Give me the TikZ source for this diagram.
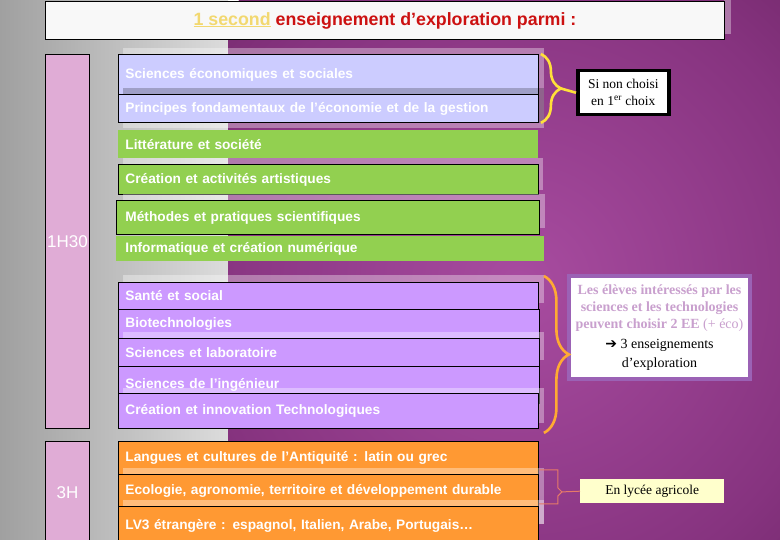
\documentclass[tikz,border=0pt]{standalone}
\usepackage{fontspec}
\setmainfont{Liberation Serif}
\newfontfamily\arialfont{Liberation Sans}
\newfontfamily\flechefont{DejaVu Sans}
\usetikzlibrary{calc,decorations.pathreplacing}

\definecolor{lavande}{HTML}{CCCCFF}
\definecolor{vertee}{HTML}{92D050}
\definecolor{mauve}{HTML}{CC99FF}
\definecolor{orangee}{HTML}{FF9933}
\definecolor{rosebarre}{HTML}{E0ACD6}
\definecolor{rougetitre}{HTML}{CC1111}
\definecolor{jaunetitre}{HTML}{F2D870}
\definecolor{blanccasse}{HTML}{F8F8F8}
\definecolor{lilas}{HTML}{C9A0CE}
\definecolor{cadreviolet}{HTML}{9B62B5}
\definecolor{accoladejaune}{HTML}{FFE03A}
\definecolor{accoladeorange}{HTML}{FFAA33}
\definecolor{accoladesaumon}{HTML}{E77A68}
\definecolor{jaunepale}{HTML}{FFFFCC}
\definecolor{grisfonce}{HTML}{A0A0A0}
\definecolor{grisclair}{HTML}{DCDCDC}
\definecolor{violetclair}{HTML}{A84CA0}
\definecolor{violetmoyen}{HTML}{86337F}
\definecolor{violetsombre}{HTML}{3A0A32}

\pgfdeclareradialshading{fondviolet}{\pgfpoint{0bp}{0bp}}{color(0bp)=(violetclair); color(20bp)=(violetmoyen); color(50bp)=(violetsombre)}

\newcommand{\lilas}[1]{\textcolor{lilas}{\textbf{#1}}}

\tikzset{
  titre/.style={anchor=north west, draw=black, line width=.9pt, fill=blanccasse, minimum width=679pt, minimum height=38pt, inner sep=0pt, text=rougetitre, font=\arialfont\bfseries\fontsize{17.8}{20}\selectfont},
  boite/.style={anchor=north west, draw=black, line width=.9pt, inner xsep=7pt, inner ysep=0pt, text width=406pt, align=left, text=white, font=\arialfont\bfseries\fontsize{13.7}{15}\selectfont},
  sansbord/.style={draw=none},
  barre/.style={anchor=north west, draw=black, line width=.9pt, fill=rosebarre, minimum width=44pt, inner sep=0pt, text=white, font=\arialfont\fontsize{17}{17}\selectfont},
  voile/.style={fill=white, opacity=.35},
  encadre/.style={anchor=north west, inner sep=0pt, align=center},
  accjaune/.style={draw=accoladejaune, line width=2.6pt, decorate, decoration={brace, amplitude=20pt}},
  accorange/.style={draw=accoladeorange, line width=2.6pt, decorate, decoration={brace, amplitude=25pt}},
  accsaumon/.style={draw=accoladesaumon, line width=1pt},
}

\begin{document}
\begin{tikzpicture}[x=1pt,y=-1pt]
\useasboundingbox (0,0) rectangle (780,540);
\shade[left color=grisfonce, right color=grisclair] (0,0) rectangle (228,540);
\begin{scope}
  \clip (228,0) rectangle (780,540);
  \shade[shading=fondviolet] (520,285) circle (400);
\end{scope}

\fill[voile] (724,0) rectangle (731,34);
\node[titre] (titre) at (45,1) {\textcolor{jaunetitre}{\underline{1 second}} enseignement d’exploration parmi :};

\node[barre, minimum height=374pt] (barre1) at (45,54) {1H30};
\node[barre, minimum height=102pt] (barre2) at (45,441) {3H};

% economie
\fill[voile] (123,48) rectangle (544,128);
\node[boite, fill=lavande, minimum height=40pt] (seco) at (118,54) {Sciences économiques et sociales};
\fill[black, opacity=.22] (123,88) rectangle (544,123);
\node[boite, fill=lavande, minimum height=28pt] (pfeg) at (118,94) {Principes fondamentaux de l’économie et de la gestion};

% litteraire
\node[boite, sansbord, fill=vertee, minimum height=28pt] (litt) at (118,130) {Littérature et société};
\fill[voile] (123,158) rectangle (543,190);
\node[boite, fill=vertee, minimum height=30pt] (crea) at (118,164) {Création et activités artistiques};
\fill[voile] (123,194) rectangle (545,228);
\node[boite, fill=vertee, minimum height=34pt, text width=405pt, inner xsep=9pt] (mps) at (116,200) {Méthodes et pratiques scientifiques};
\node[boite, sansbord, fill=vertee, minimum height=25pt, text width=410pt, inner xsep=9pt] (info) at (116,236) {Informatique et création numérique};

% technologique
\fill[voile] (123,275) rectangle (544,303);
\node[boite, fill=mauve, minimum height=27pt] (sante) at (118,282) {Santé et social};
\node[boite, fill=mauve, minimum height=29pt, text width=407pt] (biotech) at (118,309) {Biotechnologies};
\fill[voile] (123,332) rectangle (544,360);
\node[boite, fill=mauve, minimum height=28pt, text width=407pt] (labo) at (118,338) {Sciences et laboratoire};
\node[boite, fill=mauve, minimum height=37pt, text width=407pt] (si) at (118,366) {Sciences de l’ingénieur};
\fill[voile] (123,388) rectangle (544,423);
\node[boite, fill=mauve, minimum height=35pt] (cit) at (118,393) {Création et innovation Technologiques};

% 3H
\node[boite, fill=orangee, minimum height=33pt] (lca) at (118,441) {Langues et cultures de l’Antiquité : latin ou grec};
\fill[voile] (123,468) rectangle (544,524);
\node[boite, fill=orangee, minimum height=32pt] (eatdd) at (118,474) {Ecologie, agronomie, territoire et développement durable};
\fill[voile] (123,500) rectangle (544,524);
\node[boite, fill=orangee, minimum height=39pt] (lv3) at (118,506) {LV3 étrangère : espagnol, Italien, Arabe, Portugais…};

\node[encadre, draw=black, line width=3.5pt, fill=white, minimum width=91pt, minimum height=44pt, font=\fontsize{13.5}{17}\selectfont] (sinon) at (576,69) {Si non choisi\\en 1\textsuperscript{er} choix};
\node[encadre, draw=cadreviolet, line width=4pt, fill=white, minimum width=181pt, minimum height=103pt, font=\fontsize{14}{17}\selectfont] (eleves) at (567,274)
  {\lilas{Les élèves intéressés par les}\\\lilas{sciences et les technologies}\\\lilas{peuvent choisir 2 EE} \textcolor{lilas}{(+ éco)}\\[3pt]{\flechefont ➔} 3 enseignements\\[2pt]d’exploration};
\node[encadre, fill=jaunepale, minimum width=144pt, minimum height=24pt, font=\fontsize{13.5}{15}\selectfont] (agri) at (580,479) {En lycée agricole};

\draw[accjaune] ([xshift=2pt]seco.north east) -- ([xshift=2pt]pfeg.south east) coordinate[midway, xshift=20pt] (pointej);
\draw[draw=accoladejaune, line width=2.6pt] (pointej) -- (sinon.west);
\draw[accorange] ($(sante.north east)+(5,-6)$) -- ($(cit.south east)+(5,4)$);
\coordinate (saumhaut) at ($(lca.south east)+(0,-5)$);
\coordinate (saumbas) at ($(eatdd.south east)+(0,-3)$);
\draw[accsaumon] (saumhaut) -- ++(19,0) -- ++(0,18) -- ++(4,4) coordinate (pointes) -- ++(-4,4) |- (saumbas);
\draw[accsaumon] (pointes) -- (agri.west);
\end{tikzpicture}
\end{document}
